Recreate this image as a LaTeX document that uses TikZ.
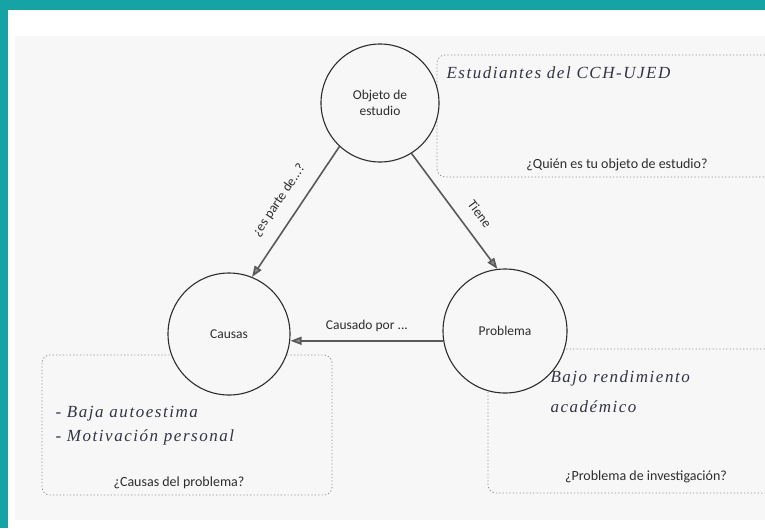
\documentclass[tikz,border=0pt]{standalone}
\usepackage{fontspec}
\setmainfont{Carlito}
\newfontfamily\hand{Liberation Serif}[LetterSpace=9]
\usetikzlibrary{arrows.meta}
\definecolor{teal1}{RGB}{22,163,166}
\definecolor{paper}{RGB}{247,247,247}
\definecolor{ink}{RGB}{45,45,45}
\definecolor{pen}{RGB}{50,52,70}
\tikzset{
  concept/.style={circle, draw=ink, line width=1.1pt, fill=paper, inner sep=0pt, text=ink, font=\fontsize{13.5}{16}\selectfont, align=center},
  link/.style={draw=black!65, line width=1.6pt, -{Triangle[length=11pt,width=8pt,fill=black!45]}},
  linklabel/.style={text=ink, font=\fontsize{13.5}{15}\selectfont},
  question/.style={text=ink, font=\fontsize{14}{16}\selectfont},
  answerbox/.style={draw=black!45, line width=0.8pt, dash pattern=on 1.2pt off 2.2pt, rounded corners=8pt},
  handtext/.style={text=pen, font=\hand\itshape\fontsize{17}{19}\selectfont, anchor=base west}
}
\begin{document}
\begin{tikzpicture}[x=1pt,y=-1pt]
\useasboundingbox (0,0) rectangle (765,528);
\fill[white] (0,0) rectangle (765,528);
\fill[paper] (15,36) rectangle (765,520);
\fill[teal1] (0,0) rectangle (765,10);
\fill[teal1] (0,0) rectangle (8,528);
% answer boxes
\draw[answerbox] (775,55) -- (437,55) -- (437,177) -- (775,177);
\draw[answerbox] (42,355) rectangle (332,495);
\draw[answerbox] (775,349) -- (488,349) -- (488,493) -- (775,493);
% concepts
\node[concept, minimum size=118pt] (obj) at (380,103) {Objeto de\\estudio};
\node[concept, minimum size=122pt] (cau) at (229,334) {Causas};
\node[concept, minimum size=124pt] (prob) at (505,331) {Problema};
% links
\draw[link] (obj.227) -- node[linklabel, sloped, above=10pt, pos=0.5] (l1) {¿es parte de...?} (cau.68);
\draw[link] (obj.302) -- node[linklabel, sloped, above=10pt, pos=0.62] (l2) {Tiene} (prob.97);
\draw[link] (prob.189) -- node[linklabel, above=5pt] (l3) {Causado por ...} (prob.189 -| cau.east);
% questions
\node[question] (q1) at (617,165) {¿Quién es tu objeto de estudio?};
\node[question] (q2) at (179,483) {¿Causas del problema?};
\node[question] (q3) at (646,477) {¿Problema de investigación?};
% handwritten answers
\node[handtext] (a1) at (443,78) {Estudiantes del CCH-UJED};
\node[handtext] (a2) at (52,417) {- Baja autoestima};
\node[handtext] (a3) at (52,441) {- Motivación personal};
\node[handtext] (a4) at (547,382) {Bajo rendimiento};
\node[handtext] (a5) at (547,412) {académico};
\end{tikzpicture}
\end{document}
